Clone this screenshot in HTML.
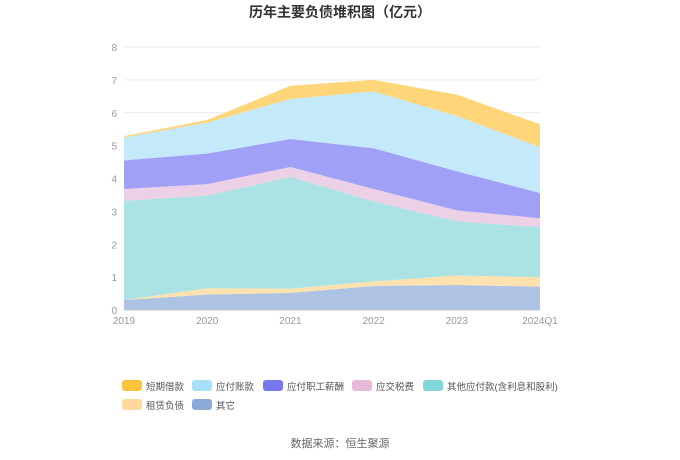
<!DOCTYPE html>
<html><head><meta charset="utf-8"><style>
body{margin:0;background:#fff;font-family:"Liberation Sans","Noto Sans CJK SC",sans-serif}
</style></head><body>
<svg id="c" width="680" height="460" style="display:block"></svg>
<script>
const categories=["2019","2020","2021","2022","2023","2024Q1"];
const seriesNames=["其它","租赁负债","其他应付款(含利息和股利)","应交税费","应付职工薪酬","应付账款","短期借款"];
const sOther=[0.30,0.47,0.52,0.73,0.76,0.71];
const sLease=[0.00,0.19,0.13,0.14,0.29,0.29];
const sOtherPay=[3.02,2.82,3.40,2.43,1.65,1.52];
const sTax=[0.36,0.35,0.30,0.38,0.33,0.27];
const sStaff=[0.87,0.93,0.85,1.24,1.19,0.77];
const sAP=[0.70,0.94,1.22,1.73,1.68,1.39];
const sShort=[0.04,0.08,0.40,0.35,0.65,0.70];
const yTicks=[0,1,2,3,4,5,6,7,8];
const series=[sOther,sLease,sOtherPay,sTax,sStaff,sAP,sShort];
const fills=["#aec3e3","#fde2b0","#abe2e3","#ecd0e5","#a0a0f7","#c3e9fa","#ffd57a"];
const NS="http://www.w3.org/2000/svg",svg=document.getElementById("c");
const X0=124,X1=540,Y0=310,Y1=47;
const xs=i=>X0+(X1-X0)*i/(categories.length-1);
const ys=v=>Y0-(Y0-Y1)*v/8;
function mk(t,a,p){const e=document.createElementNS(NS,t);for(const k in a)e.setAttribute(k,a[k]);(p||svg).appendChild(e);return e;}
let t=mk("text",{x:340,y:17,"text-anchor":"middle","font-size":"14","font-weight":"bold",fill:"#333"});


t.textContent="历年主要负债堆积图（亿元）";
yTicks.forEach(v=>{
 const l=mk("line",{x1:X0,x2:X1,y1:ys(v),y2:ys(v),stroke:v?"#e8eaf3":"#ccc","stroke-width":1});
 
 
 const tx=mk("text",{x:117,y:ys(v)+4,"text-anchor":"end","font-size":"10",fill:"#999"});
 
 
 tx.textContent=v;
});
let base=categories.map(()=>0);
series.forEach((s,k)=>{
 const top=base.map((b,i)=>b+s[i]);
 let d=top.map((v,i)=>(i?"L":"M")+xs(i)+","+ys(v)).join("");
 for(let i=base.length-1;i>=0;i--)d+="L"+xs(i)+","+ys(base[i]);
 const p=mk("path",{d:d+"Z",fill:fills[k]});
 
 
 base=top;
});
categories.forEach((c,i)=>{
 const tx=mk("text",{x:xs(i),y:324,"text-anchor":"middle","font-size":"10",fill:"#999"});
 
 
 tx.textContent=c;
});
const legendOrder=[6,5,4,3,2,1,0];
const legColors=["#8caad8","#fdd99e","#80d6d8","#e8b8d8","#7777ee","#a8dff8","#fbc33c"];
const legPos=[[122,386],[192,386],[263,386],[352,386],[423,386],[122,405],[192,405]];
legendOrder.forEach((k,j)=>{
 const [x,y]=legPos[j];
 const g=mk("g",{});
 
 
 mk("rect",{x:x,y:y-6,width:20,height:11,rx:3,fill:legColors[k]},g);
 const tx=mk("text",{x:x+24,y:y+4,"font-size":"9.5",fill:"#555"},g);
 tx.textContent=seriesNames[k];
});
t=mk("text",{x:340,y:447,"text-anchor":"middle","font-size":"11",fill:"#666"});


t.textContent="数据来源：恒生聚源";
</script>
</body></html>
